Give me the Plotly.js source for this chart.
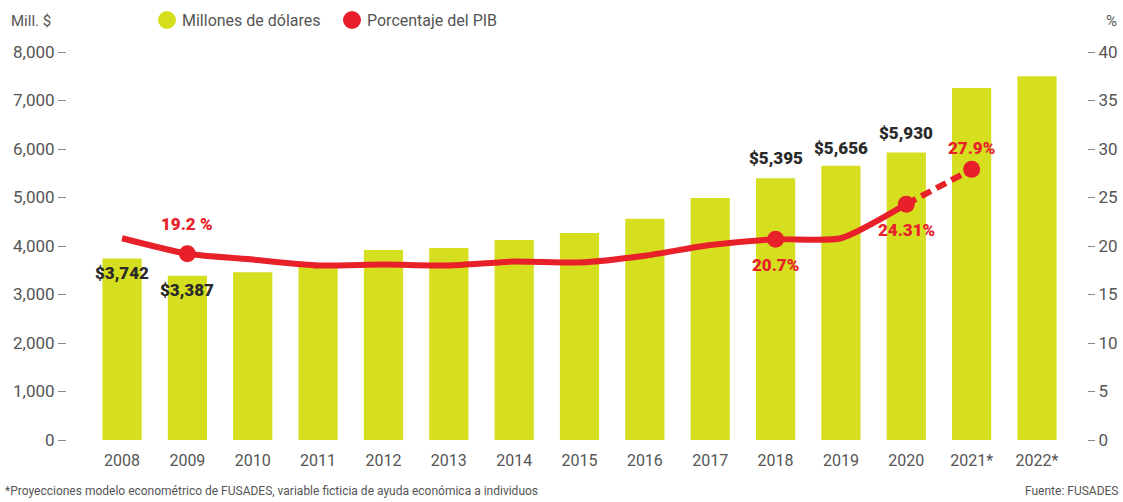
<!DOCTYPE html>
<html>
<head>
<meta charset="utf-8">
<script src="https://cdn.plot.ly/plotly-3.0.1.min.js"></script>
<style>
html,body{margin:0;padding:0;background:#fff;}
#chart{width:1123px;height:502px;}
</style>
</head>
<body>
<div id="chart"></div>
<script>
// ---- data ----
const years = ["2008","2009","2010","2011","2012","2013","2014","2015","2016","2017","2018","2019","2020","2021*","2022*"];
const millones = [3742, 3387, 3460, 3570, 3920, 3960, 4125, 4270, 4560, 4990, 5395, 5656, 5930, 7260, 7500];
const pctYears = ["2008","2009","2010","2011","2012","2013","2014","2015","2016","2017","2018","2019","2020"];
const pctPIB = [20.8, 19.2, 18.6, 18.0, 18.1, 18.0, 18.4, 18.3, 19.0, 20.1, 20.7, 20.8, 24.31];
const projYears = ["2020","2021*"];
const projPct = [24.31, 27.9];
const markedYears = ["2009","2018","2020","2021*"];
const markedPct = [19.2, 20.7, 24.31, 27.9];
const dollarLabelYears = ["2008","2009","2018","2019","2020"];
const dollarLabelText = ["$3,742","$3,387","$5,395","$5,656","$5,930"];
const pctLabelText = ["19.2 %","20.7%","24.31%","27.9%"];
const leftTicks = [0,1000,2000,3000,4000,5000,6000,7000,8000];
const rightTicks = [0,5,10,15,20,25,30,35,40];

const GREEN = "#d5df20";
const RED = "#e8202a";
const FONT = "Roboto, 'Liberation Sans', sans-serif";
const GRAY = "#555";

const traces = [
  {type:"bar", x:years, y:millones, marker:{color:GREEN}, hoverinfo:"skip", showlegend:false},
  {type:"scatter", mode:"lines", x:pctYears, y:pctPIB, yaxis:"y2",
   line:{color:RED, width:6, shape:"spline", smoothing:0.6}, hoverinfo:"skip", showlegend:false},
  {type:"scatter", mode:"lines", x:projYears, y:projPct, yaxis:"y2",
   line:{color:RED, width:6, dash:"11px,6px"}, hoverinfo:"skip", showlegend:false},
  {type:"scatter", mode:"markers", x:markedYears, y:markedPct, yaxis:"y2",
   marker:{color:RED, size:17}, hoverinfo:"skip", showlegend:false}
];

const annotations = [];
// dollar labels (x given as category index)
const dollarShift = [-14,-14,20,18,19];
dollarLabelYears.forEach((yr,i)=>{
  const idx = years.indexOf(yr);
  annotations.push({x:idx, y:millones[idx], xref:"x", yref:"y", text:dollarLabelText[i],
    showarrow:false, yanchor:"middle", yshift:dollarShift[i],
    font:{family:FONT, size:17, color:"#2a2a2a", weight:900}});
});
// percent labels
const pctShift = [30,-26,-26,21];
markedYears.forEach((yr,i)=>{
  annotations.push({x:years.indexOf(yr), y:markedPct[i], xref:"x", yref:"y2", text:pctLabelText[i],
    showarrow:false, yanchor:"middle", yshift:pctShift[i],
    font:{family:FONT, size:17, color:RED, weight:900}});
});
// axis titles / legend / notes
annotations.push(
  {xref:"paper", yref:"paper", x:(9-67)/1020, y:1.08, xanchor:"left", yanchor:"middle", text:"Mill. $", showarrow:false,
   font:{family:FONT, size:15, color:GRAY}},
  {xref:"paper", yref:"paper", x:(1119-67)/1020, y:1.08, xanchor:"right", yanchor:"middle", text:"%", showarrow:false,
   font:{family:FONT, size:15, color:GRAY}},
  {xref:"paper", yref:"paper", x:(180-67)/1020, y:1.08, xanchor:"left", yanchor:"middle", text:"Millones de dólares", showarrow:false,
   font:{family:FONT, size:16, color:GRAY}},
  {xref:"paper", yref:"paper", x:(365-67)/1020, y:1.08, xanchor:"left", yanchor:"middle", text:"Porcentaje del PIB", showarrow:false,
   font:{family:FONT, size:16, color:GRAY}},
  {xref:"paper", yref:"paper", x:(3-67)/1020, y:-0.132, xanchor:"left", yanchor:"middle",
   text:"*Proyecciones modelo econométrico de FUSADES, variable ficticia de ayuda económica a individuos", showarrow:false,
   font:{family:FONT, size:12, color:GRAY}},
  {xref:"paper", yref:"paper", x:(1120-67)/1020, y:-0.132, xanchor:"right", yanchor:"middle",
   text:"Fuente: FUSADES", showarrow:false,
   font:{family:FONT, size:12, color:GRAY}}
);

const shapes = [
  {type:"circle", xref:"paper", yref:"paper", x0:(158-67)/1020, x1:(176-67)/1020, y0:(440-11)/388, y1:(440-29)/388,
   fillcolor:GREEN, line:{width:0}},
  {type:"circle", xref:"paper", yref:"paper", x0:(343-67)/1020, x1:(361-67)/1020, y0:(440-11)/388, y1:(440-29)/388,
   fillcolor:RED, line:{width:0}}
];

const layout = {
  width:1123, height:502,
  margin:{l:67, r:36, t:52, b:62, pad:0},
  paper_bgcolor:"#fff", plot_bgcolor:"#fff",
  bargap:0.4,
  showlegend:false,
  xaxis:{type:"category", range:[-0.842, 14.765], showgrid:false, zeroline:false, showline:false,
    ticks:"outside", ticklen:6, tickcolor:"rgba(0,0,0,0)",
    tickfont:{family:FONT, size:16, color:GRAY}, fixedrange:true},
  yaxis:{range:[0,8000], tickvals:leftTicks, ticktext:leftTicks.map(v=>v.toLocaleString("en-US")),
    showgrid:false, zeroline:false, showline:false, ticks:"outside", ticklen:8, tickwidth:1, tickcolor:"#888",
    tickfont:{family:FONT, size:17, color:GRAY}, fixedrange:true},
  yaxis2:{range:[0,40], tickvals:rightTicks, overlaying:"y", side:"right",
    showgrid:false, zeroline:false, showline:false, ticks:"outside", ticklen:7, tickwidth:1, tickcolor:"#888",
    tickfont:{family:FONT, size:17, color:GRAY}, fixedrange:true},
  annotations:annotations,
  shapes:shapes
};

Plotly.newPlot("chart", traces, layout, {staticPlot:true, displayModeBar:false});
</script>
</body>
</html>
